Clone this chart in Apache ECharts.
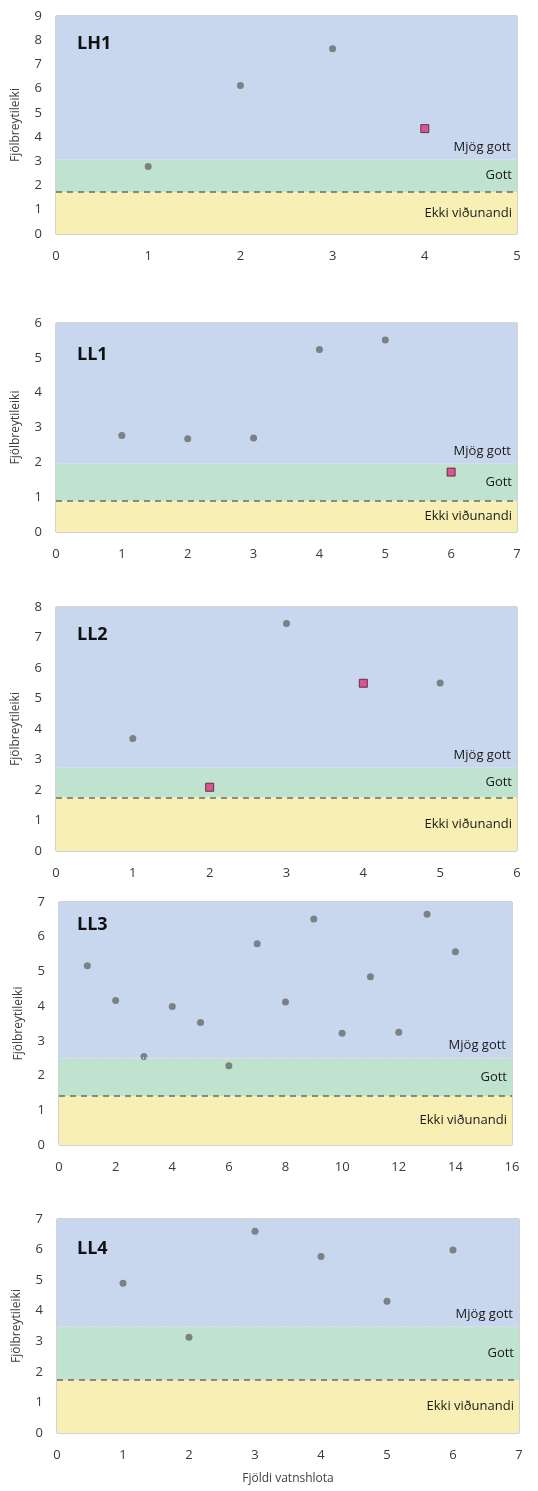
<!DOCTYPE html>
<html><head><meta charset="utf-8">
<script src="https://cdn.jsdelivr.net/npm/echarts@6/dist/echarts.min.js"></script>
<style>html,body{margin:0;padding:0;background:#fff}#c{width:538px;height:1491px}</style>
</head><body><div id="c"></div>
<script>
// ---- data ----
const panelNames = ['LH1', 'LL1', 'LL2', 'LL3', 'LL4'];
const xMax = [5, 7, 6, 16, 7];
const xStep = [1, 1, 1, 2, 1];
const yMax = [9, 6, 8, 7, 7];
// class thresholds (upper limit of "Ekki viðunandi", upper limit of "Gott")
const poorLimit = [1.73, 0.90, 1.76, 1.41, 1.73];
const goodLimit = [3.08, 1.96, 2.73, 2.50, 3.49];
// circle points
const lh1X = [1, 2, 3];           const lh1Y = [2.79, 6.13, 7.65];
const ll1X = [1, 2, 3, 4, 5];     const ll1Y = [2.77, 2.68, 2.70, 5.24, 5.51];
const ll2X = [1, 3, 5];           const ll2Y = [3.69, 7.46, 5.51];
const ll3X = [1, 2, 3, 4, 5, 6, 7, 8, 9, 10, 11, 12, 13, 14];
const ll3Y = [5.16, 4.16, 2.55, 3.99, 3.53, 2.28, 5.80, 4.12, 6.51, 3.22, 4.85, 3.25, 6.65, 5.57];
const ll4X = [1, 2, 3, 4, 5, 6];  const ll4Y = [4.90, 3.13, 6.60, 5.77, 4.31, 5.99];
// highlighted (square) points
const lh1SqX = [4];    const lh1SqY = [4.35];
const ll1SqX = [6];    const ll1SqY = [1.72];
const ll2SqX = [2, 4]; const ll2SqY = [2.09, 5.50];
const ll3SqX = [];     const ll3SqY = [];
const ll4SqX = [];     const ll4SqY = [];
const bandLabels = ['Ekki viðunandi', 'Gott', 'Mjög gott'];
const yName = 'Fjölbreytileiki';
const xName = 'Fjöldi vatnshlota';

const circX = [lh1X, ll1X, ll2X, ll3X, ll4X];
const circY = [lh1Y, ll1Y, ll2Y, ll3Y, ll4Y];
const sqX = [lh1SqX, ll1SqX, ll2SqX, ll3SqX, ll4SqX];
const sqY = [lh1SqY, ll1SqY, ll2SqY, ll3SqY, ll4SqY];

// ---- layout ----
const grids = [
  {left: 56, top: 16, right: 21, height: 218},
  {left: 56, top: 323, right: 21, height: 209},
  {left: 56, top: 607, right: 21, height: 244},
  {left: 59, top: 902, right: 26, height: 243},
  {left: 57, top: 1219, right: 19, height: 214}
];
const titleTop = [30, 341, 621, 911, 1235];

const FONT = "'Open Sans', 'Liberation Sans', sans-serif";
const zip = (a, b) => a.map((v, i) => [v, b[i]]);

const option = {
  animation: false,
  backgroundColor: '#ffffff',
  title: panelNames.map((n, i) => ({
    text: n, left: 72, top: titleTop[i],
    textStyle: {fontFamily: FONT, fontSize: 18, fontWeight: 'bold', color: '#111'}
  })),
  grid: grids.map(g => Object.assign({show: true, borderColor: '#a6a6a6', borderWidth: 1,
    backgroundColor: 'transparent', containLabel: false, outerBoundsMode: 'none'}, g)),
  xAxis: panelNames.map((n, i) => ({
    type: 'value', gridIndex: i, min: 0, max: xMax[i], interval: xStep[i],
    axisLine: {show: false}, axisTick: {show: false}, splitLine: {show: false},
    axisLabel: {fontFamily: FONT, fontSize: 13, color: '#3a3a3a', margin: 16},
    name: i === 4 ? xName : '', nameLocation: 'middle', nameGap: 40,
    nameTextStyle: {fontFamily: FONT, fontSize: 12, color: '#404040'}
  })),
  yAxis: panelNames.map((n, i) => ({
    type: 'value', gridIndex: i, min: 0, max: yMax[i], interval: 1,
    axisLine: {show: false}, axisTick: {show: false}, splitLine: {show: false},
    axisLabel: {fontFamily: FONT, fontSize: 13, color: '#3a3a3a', margin: 14},
    name: yName, nameLocation: 'middle', nameGap: 34, nameRotate: 90,
    nameTextStyle: {fontFamily: FONT, fontSize: 12, color: '#404040'}
  })),
  series: []
};

panelNames.forEach((n, i) => {
  const lbl = (txt, pos, dist) => ({show: true, formatter: txt, position: pos, distance: dist,
    fontFamily: FONT, fontSize: 13, color: '#1a1a1a'});
  option.series.push({
    type: 'scatter', xAxisIndex: i, yAxisIndex: i, z: 1, data: [],
    silent: true,
    markArea: {
      silent: true,
      data: [
        [{yAxis: 0, itemStyle: {color: '#f7efb3'}, label: lbl(bandLabels[0], 'insideRight', 5)}, {yAxis: poorLimit[i]}],
        [{yAxis: poorLimit[i], itemStyle: {color: '#bfe3cf'}, label: lbl(bandLabels[1], 'insideRight', 5)}, {yAxis: goodLimit[i]}],
        [{yAxis: goodLimit[i], itemStyle: {color: '#c9d7ee'}, label: lbl(bandLabels[2], 'insideBottomRight', 6)}, {yAxis: yMax[i]}]
      ]
    },
    markLine: {
      silent: true, symbol: 'none', label: {show: false},
      data: [
        {yAxis: poorLimit[i], lineStyle: {color: '#6b6b6b', type: [6, 5], width: 1.5}},
        {yAxis: goodLimit[i], lineStyle: {color: '#d8dde0', type: [1, 2], width: 1.5}}
      ]
    }
  });
  option.series.push({
    type: 'scatter', xAxisIndex: i, yAxisIndex: i, z: 3,
    symbol: 'circle', symbolSize: 7,
    itemStyle: {color: '#6a6a6a'},
    data: zip(circX[i], circY[i])
  });
  option.series.push({
    type: 'scatter', xAxisIndex: i, yAxisIndex: i, z: 4,
    symbol: 'rect', symbolSize: 8,
    itemStyle: {color: '#e2307e', borderColor: '#3b2230', borderWidth: 1},
    data: zip(sqX[i], sqY[i])
  });
});

const chart = echarts.init(document.getElementById('c'), null, {renderer: 'canvas'});
chart.setOption(option);
</script>
</body></html>
